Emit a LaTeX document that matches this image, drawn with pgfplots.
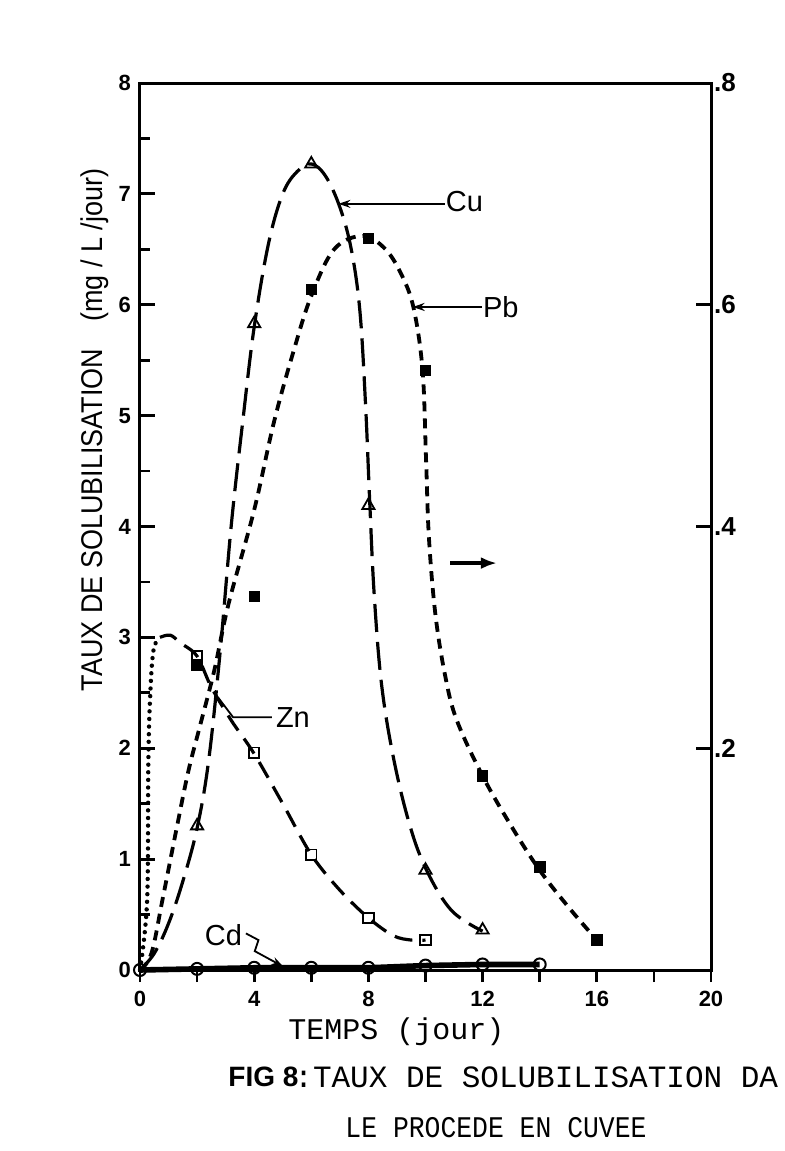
\documentclass[border=0pt]{standalone}
\usepackage{fontspec}
\setmainfont{Liberation Sans}
\setmonofont{Liberation Mono}
\usepackage{graphicx}
\usepackage{pgfplots}
\pgfplotsset{compat=1.18}
\usetikzlibrary{arrows.meta}
\begin{document}
\begin{tikzpicture}
\path[use as bounding box] (-70pt,-90.5pt) rectangle (322.5pt,485pt);
\pgfplotsset{myax/.style={at={(0pt,0pt)}, anchor=south west, scale only axis,
  width=285.5pt, height=443.5pt, /pgf/number format/assume math mode=true}}
% left y axis with inward ticks
\begin{axis}[myax, xmin=0, xmax=20, ymin=0, ymax=8, hide x axis, axis y line*=left,
  axis line style={line width=1.5pt, -},
  ytick={0,1,...,8}, minor ytick={0.5,1.5,...,7.5}, tick align=inside,
  major tick length=7.5pt, minor tick length=5pt,
  every tick/.style={line width=1.4pt, black},
  yticklabel style={font=\bfseries\fontsize{11}{11}\selectfont, xshift=-1pt}]
\end{axis}
% right y axis
\begin{axis}[myax, xmin=0, xmax=20, ymin=0, ymax=0.8, hide x axis, axis y line*=right,
  axis line style={line width=1.5pt, -},
  ytick={0.2,0.4,0.6,0.8}, yticklabels={.2,.4,.6,.8}, tick align=inside,
  major tick length=7.5pt, every tick/.style={line width=1.4pt, black},
  yticklabel style={font=\bfseries\fontsize{13}{13}\selectfont, xshift=-2pt}]
\end{axis}
% main axis with data
\begin{axis}[myax, xmin=0, xmax=20, ymin=0, ymax=8, clip=false,
  axis line style={line width=1.5pt},
  xtick={0,4,...,20}, minor xtick={2,6,...,18}, xtick pos=left, ytick=\empty,
  tick align=outside, major tick length=6pt, minor tick length=6pt,
  every tick/.style={line width=1.4pt, black},
  xticklabel style={font=\bfseries\fontsize{11}{11}\selectfont, yshift=-1pt}]
% Cu curve
\addplot[black, line width=1.6pt, dash pattern=on 14pt off 5pt, smooth, tension=0.6] coordinates {
 (0,0) (0.5,0.15) (1.0,0.42) (1.5,0.8) (2.0,1.28) (2.4,1.88) (2.8,2.85) (3.2,4.02)
 (3.6,4.95) (4.0,5.8) (4.5,6.55) (5.0,7.0) (5.5,7.2) (6.0,7.27) (6.5,7.16) (7.0,6.88)
 (7.4,6.5) (7.7,5.95) (7.9,5.1) (8.05,4.2) (8.2,3.4) (8.45,2.6) (8.85,1.95) (9.4,1.35)
 (10.0,0.92) (10.9,0.54) (12.0,0.35)};
\addplot[only marks, mark=triangle, mark size=3.5pt, mark options={solid, fill=white, line width=0.9pt}] coordinates {
 (2,1.3) (4,5.83) (6,7.27) (8,4.19) (10,0.9) (12,0.36)};
% Pb curve
\addplot[black, line width=1.9pt, dash pattern=on 5pt off 3.5pt, smooth, tension=0.6] coordinates {
 (0,0) (0.4,0.15) (0.8,0.65) (1.3,1.3) (1.7,1.8) (2.1,2.2) (2.6,2.7) (3.1,3.3)
 (4.0,4.15) (4.7,4.95) (5.4,5.6) (6.0,6.08) (6.8,6.5) (7.8,6.62) (8.6,6.5) (9.2,6.25)
 (9.6,5.95) (9.9,5.4) (10.02,4.6) (10.12,3.9) (10.35,3.2) (10.7,2.64) (11.1,2.25)
 (12.0,1.75) (13.0,1.3) (14.0,0.9) (15.0,0.57) (16.0,0.27)};
\addplot[only marks, mark=square*, mark size=2.6pt, mark options={solid, fill=black}] coordinates {
 (2,2.75) (4,3.37) (6,6.14) (8,6.6) (10,5.41) (12,1.75) (14,0.93) (16,0.27)};
% Zn dotted start
\addplot[black, line width=2.2pt, line cap=round, dash pattern=on 0.01pt off 3.8pt, smooth, tension=0.6] coordinates {
 (0,0) (0.25,0.63) (0.29,1.83) (0.35,2.43) (0.47,2.88) (0.7,3.0)};
% Zn dashed
\addplot[black, line width=1.6pt, dash pattern=on 9pt off 5pt, smooth, tension=0.55] coordinates {
 (0.7,3.0) (1.06,3.02) (1.42,2.95) (2.0,2.83) (2.5,2.55) (3.2,2.25) (4.0,1.95) (5.0,1.5)
 (6.0,1.04) (7.0,0.72) (8.0,0.47) (8.87,0.31) (9.5,0.27) (10.0,0.27)};
\addplot[only marks, mark=square, mark size=2.6pt, mark options={solid, fill=white, line width=0.9pt}] coordinates {
 (2,2.83) (4,1.96) (6,1.04) (8,0.47) (10,0.27)};
% Cd
\addplot[black, line width=2.8pt, mark=o, mark size=3pt, mark options={solid, fill=white, line width=1pt}] coordinates {
 (0,0) (2,0.01) (4,0.02) (6,0.02) (8,0.02) (10,0.04) (12,0.05) (14,0.05)};
% annotations
\draw[line width=0.9pt, -{Stealth[length=6pt,width=4pt]}] (10.68,6.91) -- (6.95,6.91);
\node[font=\fontsize{14.5}{14.5}\selectfont, anchor=west, inner sep=0pt] at (10.7,6.93) {Cu};
\draw[line width=0.9pt, -{Stealth[length=6pt,width=4pt]}] (11.98,5.98) -- (9.55,5.98);
\node[font=\fontsize{14.5}{14.5}\selectfont, anchor=west, inner sep=0pt] at (12.0,5.98) {Pb};
\draw[line width=0.9pt] (4.62,2.28) -- (3.26,2.28) -- (2.73,2.46);
\node[font=\fontsize{14.5}{14.5}\selectfont, anchor=west, inner sep=0pt] at (4.75,2.28) {Zn};
\draw[line width=0.9pt, -{Stealth[length=6pt,width=4pt]}] (3.71,0.33) -- (4.15,0.27) -- (4.02,0.17) -- (5.02,0.03);
\node[font=\fontsize{14.5}{14.5}\selectfont, inner sep=0pt] at (2.92,0.31) {Cd};
\draw[line width=1.8pt, -{Latex[length=8pt,width=6pt]}] (10.86,3.67) -- (12.5,3.67);
\end{axis}
% axis titles and caption
\node[rotate=90, font=\fontsize{15}{15}\selectfont] at (-22.5pt,270pt)
  {\scalebox{0.9}[1]{TAUX DE SOLUBILISATION\quad(mg / L /jour)}};
\node[font=\ttfamily\fontsize{15}{15}\selectfont] at (128.25pt,-31pt) {TEMPS (jour)};
\node[anchor=west, inner sep=0pt, font=\bfseries\fontsize{14}{14}\selectfont] at (44pt,-53.5pt) {FIG 8};
\node[anchor=west, inner sep=0pt, font=\ttfamily\fontsize{15.5}{15.5}\selectfont] at (77pt,-53.5pt) {:TAUX DE SOLUBILISATION DA};
\node[inner sep=0pt, font=\ttfamily\fontsize{15}{15}\selectfont] at (178pt,-79pt) {\scalebox{0.88}[1]{LE PROCEDE EN CUVEE}};
\end{tikzpicture}
\end{document}
